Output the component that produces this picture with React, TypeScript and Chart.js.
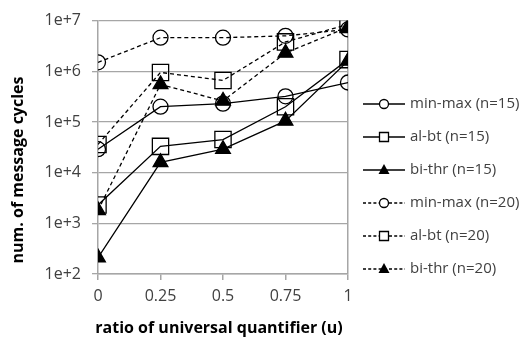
import React, { useEffect, useRef } from "react";
import { Chart, registerables } from "chart.js";

Chart.register(...registerables);

const ratios = [0, 0.25, 0.5, 0.75, 1];
const yTickValues = [1e2, 1e3, 1e4, 1e5, 1e6, 1e7];
const yTickLabels = ["1e+2", "1e+3", "1e+4", "1e+5", "1e+6", "1e+7"];

const minMax15 = [29000, 200000, 230000, 320000, 600000];
const alBt15 = [2300, 33000, 45000, 200000, 1700000];
const biThr15 = [210, 16000, 29000, 105000, 1600000];
const minMax20 = [1500000, 4600000, 4600000, 5000000, 6700000];
const alBt20 = [36000, 950000, 660000, 3800000, 8400000];
const biThr20 = [1800, 550000, 260000, 2300000, 7400000];

const seriesNames = [
  "min-max (n=15)",
  "al-bt (n=15)",
  "bi-thr (n=15)",
  "min-max (n=20)",
  "al-bt (n=20)",
  "bi-thr (n=20)",
];

const xTitle = "ratio of universal quantifier (u)";
const yTitle = "num. of message cycles";

const FONT = "'Open Sans', sans-serif";

const legendPlugin = {
  id: "customLegend",
  afterDraw(chart: any) {
    const ctx = chart.ctx;
    const ds = chart.data.datasets;
    const x0 = 363;
    const x1 = 405;
    const xm = 384;
    const textX = 410;
    const yStart = 104;
    const step = 33;
    ctx.save();
    ds.forEach((d: any, i: number) => {
      const y = yStart + i * step;
      ctx.strokeStyle = "#000";
      ctx.lineWidth = 1.3;
      ctx.setLineDash(d.borderDash && d.borderDash.length ? [3, 2.2] : []);
      ctx.beginPath();
      ctx.moveTo(x0, y);
      ctx.lineTo(x1, y);
      ctx.stroke();
      ctx.setLineDash([]);
      ctx.fillStyle = "#fff";
      ctx.beginPath();
      if (d.pointStyle === "circle") {
        ctx.arc(xm, y, 4.5, 0, Math.PI * 2);
        ctx.fill();
        ctx.stroke();
      } else if (d.pointStyle === "rect") {
        ctx.rect(xm - 4.5, y - 4.5, 9, 9);
        ctx.fill();
        ctx.stroke();
      } else {
        ctx.fillStyle = "#000";
        ctx.moveTo(xm, y - 6);
        ctx.lineTo(xm + 5.5, y + 4);
        ctx.lineTo(xm - 5.5, y + 4);
        ctx.closePath();
        ctx.fill();
      }
      ctx.fillStyle = "#404040";
      ctx.font = "15px " + FONT;
      ctx.textBaseline = "middle";
      ctx.textAlign = "left";
      ctx.fillText(d.label, textX, y);
    });
    // axis titles
    ctx.fillStyle = "#000";
    ctx.font = "bold 16px " + FONT;
    ctx.textAlign = "center";
    ctx.textBaseline = "middle";
    ctx.fillText(xTitle, 219, 328);
    ctx.save();
    ctx.translate(18.5, 170);
    ctx.rotate(-Math.PI / 2);
    ctx.fillText(yTitle, 0, 0);
    ctx.restore();
    ctx.restore();
  },
};

function makeDataset(label: string, values: number[], style: string, dashed: boolean) {
  const isTri = style === "triangle";
  return {
    label,
    data: ratios.map((r, i) => ({ x: r, y: values[i] })),
    borderColor: "#000",
    borderWidth: 1.3,
    borderDash: dashed ? [4, 3] : [],
    pointStyle: style,
    pointRadius: style === "rect" ? 11.5 : style === "circle" ? 7.5 : 8.5,
    pointBorderColor: "#000",
    pointBorderWidth: 1.3,
    pointBackgroundColor: isTri ? "#000" : "rgba(0,0,0,0)",
    fill: false,
    tension: 0,
  };
}

export default function App() {
  const ref = useRef<HTMLCanvasElement | null>(null);
  useEffect(() => {
    if (!ref.current) return;
    const chart = new Chart(ref.current, {
      type: "line",
      data: {
        datasets: [
          makeDataset(seriesNames[0], minMax15, "circle", false),
          makeDataset(seriesNames[1], alBt15, "rect", false),
          makeDataset(seriesNames[2], biThr15, "triangle", false),
          makeDataset(seriesNames[3], minMax20, "circle", true),
          makeDataset(seriesNames[4], alBt20, "rect", true),
          makeDataset(seriesNames[5], biThr20, "triangle", true),
        ] as any,
      },
      options: {
        animation: false,
        responsive: false,
        maintainAspectRatio: false,
        layout: { padding: { top: 16, right: 176, left: 0, bottom: 0 } },
        plugins: { legend: { display: false }, tooltip: { enabled: false } },
        scales: {
          x: {
            type: "linear",
            min: 0,
            max: 1,
            afterFit: (s: any) => {
              s.height = 71;
            },
            afterBuildTicks: (s: any) => {
              s.ticks = ratios.map((v) => ({ value: v }));
            },
            border: { display: true, color: "#a6a6a6", width: 1.5 },
            grid: {
              drawOnChartArea: true,
              color: (c: any) => (c.tick && c.tick.value === 1 ? "#a6a6a6" : "rgba(0,0,0,0)"),
              tickColor: "#a6a6a6",
              tickLength: 6,
              lineWidth: 1.5,
            },
            ticks: {
              color: "#404040",
              font: { family: FONT, size: 16 },
              padding: 7,
              maxRotation: 0,
              callback: (v: any) => String(v),
            },
            title: { display: false },
          },
          y: {
            type: "logarithmic",
            min: 100,
            max: 1e7,
            afterFit: (s: any) => {
              s.width = 98;
            },
            afterBuildTicks: (s: any) => {
              s.ticks = yTickValues.map((v) => ({ value: v }));
            },
            border: { display: true, color: "#a6a6a6", width: 1.5 },
            grid: { color: "#a6a6a6", tickColor: "#a6a6a6", tickLength: 6, lineWidth: 1.3 },
            ticks: {
              color: "#404040",
              font: { family: FONT, size: 16 },
              padding: 11,
              callback: (v: any) => {
                const i = yTickValues.indexOf(Number(v));
                return i >= 0 ? yTickLabels[i] : "";
              },
            },
            title: { display: false },
          },
        },
      } as any,
      plugins: [legendPlugin],
    });
    return () => chart.destroy();
  }, []);
  return (
    <div style={{ position: "fixed", left: 0, top: 0, width: 524, height: 345, background: "#fff" }}>
      <canvas ref={ref} width={524} height={345} />
    </div>
  );
}
